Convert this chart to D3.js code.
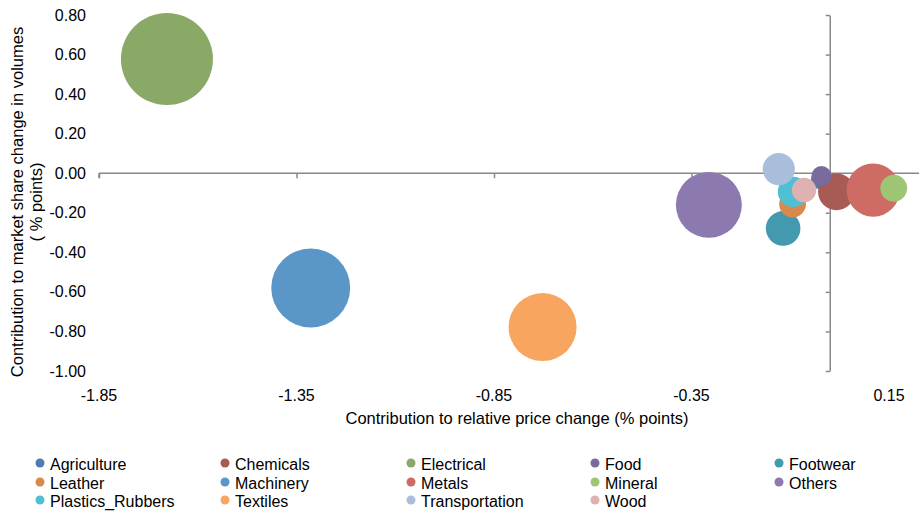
<!DOCTYPE html>
<html>
<head>
<meta charset="utf-8">
<script src="https://cdn.jsdelivr.net/npm/d3@7"></script>
<style>
  body { margin: 0; background: #fff; }
  text { font-family: "Liberation Sans", Arial, sans-serif; fill: #000; }
</style>
</head>
<body>
<script>
// sectors, in series order (later ones drawn on top)
const sectors = ['Agriculture', 'Chemicals', 'Electrical', 'Food', 'Footwear', 'Leather', 'Machinery',
  'Metals', 'Mineral', 'Others', 'Plastics_Rubbers', 'Textiles', 'Transportation', 'Wood'];
// contribution to relative price change (% points)
const priceChange = [-0.025, 0.017, -1.678, -0.021, -0.118, -0.094, -1.314,
  0.110, 0.162, -0.306, -0.093, -0.727, -0.129, -0.065];
// contribution to market share change in volumes (% points)
const volumeChange = [-0.035, -0.094, 0.577, -0.014, -0.279, -0.156, -0.580,
  -0.085, -0.076, -0.160, -0.094, -0.778, 0.021, -0.085];
// bubble size
const bubbleSize = [0.8, 3.4, 21.2, 1.0, 3.0, 1.8, 15.6, 7.1, 1.8, 10.9, 2.3, 11.6, 2.6, 1.5];
const colors = ['#4f7bb0', '#a85a54', '#8aa866', '#7a6a9e', '#4399ad', '#d88a4c', '#5b96c8',
  '#cd6b64', '#9dc573', '#8b79b0', '#4fbfd4', '#f8a55f', '#a9bedb', '#deb2b0'];

const xTicks = [-1.85, -1.35, -0.85, -0.35, 0.15];
const yTicks = [0.8, 0.6, 0.4, 0.2, 0, -0.2, -0.4, -0.6, -0.8, -1.0];

const width = 919, height = 511;
const svg = d3.select('body').append('svg')
  .attr('width', width)
  .attr('height', height);

const x = d3.scaleLinear().domain([-1.85, 0.225]).range([99, 918.6]);
const y = d3.scaleLinear().domain([-1.0, 0.8]).range([371, 15]);
const r = d3.scaleSqrt().domain([0, 21.2]).range([0, 46]);

const axisColor = '#888';
// hyphen instead of unicode minus, like the original
const fmt = function (d) { return d3.format('.2f')(d).replace('\u2212', '-'); };

// vertical axis crossing at x = 0
const yAxis = svg.append('g')
  .attr('transform', 'translate(' + x(0) + ',0)')
  .call(d3.axisLeft(y).tickValues(yTicks).tickSize(4).tickSizeOuter(0).tickFormat(''));
// horizontal axis crossing at y = 0
const xAxis = svg.append('g')
  .attr('transform', 'translate(0,' + y(0) + ')')
  .call(d3.axisBottom(x).tickValues(xTicks.slice(0, 4)).tickSize(5).tickSizeOuter(0).tickFormat(''));
xAxis.append('line').attr('x1', x(-1.85)).attr('x2', x(-1.85)).attr('y1', 0).attr('y2', 5);
svg.selectAll('.domain, .tick line, g > line').attr('stroke', axisColor).attr('stroke-width', 1.5);
xAxis.select('.domain').attr('d', 'M' + x(-1.85) + ',0H' + width);

// tick labels at the low end
svg.append('g').selectAll('text')
  .data(yTicks)
  .enter()
  .append('text')
  .attr('x', 86)
  .attr('y', function (d) { return y(d); })
  .attr('dy', '0.35em')
  .attr('text-anchor', 'end')
  .style('font-size', '16px')
  .text(fmt);

svg.append('g').selectAll('text')
  .data(xTicks)
  .enter()
  .append('text')
  .attr('x', function (d) { return x(d); })
  .attr('y', 401)
  .attr('text-anchor', 'middle')
  .style('font-size', '16px')
  .text(fmt);

// axis titles
svg.append('text')
  .attr('x', 517).attr('y', 424)
  .attr('text-anchor', 'middle')
  .style('font-size', '16.5px')
  .text('Contribution to relative price change (% points)');

const yTitle = svg.append('text')
  .attr('transform', 'translate(23,202) rotate(-90)')
  .attr('text-anchor', 'middle')
  .style('font-size', '16.5px');
yTitle.append('tspan').attr('x', 0).attr('y', 0).text('Contribution to market share change in volumes');
yTitle.append('tspan').attr('x', 0).attr('y', 19).text('( % points)');

// bubbles
svg.append('g').selectAll('circle')
  .data(sectors)
  .enter()
  .append('circle')
  .attr('cx', function (d, i) { return x(priceChange[i]); })
  .attr('cy', function (d, i) { return y(volumeChange[i]); })
  .attr('r', function (d, i) { return r(bubbleSize[i]); })
  .attr('fill', function (d, i) { return colors[i]; });

// legend, 5 columns
const colX = [40, 225, 411, 595, 779];
const rowY = [465, 484, 502];
const legend = svg.append('g').selectAll('g')
  .data(sectors)
  .enter()
  .append('g')
  .attr('transform', function (d, i) {
    return 'translate(' + colX[i % 5] + ',' + rowY[Math.floor(i / 5)] + ')';
  });
legend.append('circle')
  .attr('r', 4.5)
  .attr('cy', -2)
  .attr('fill', function (d, i) { return colors[i]; });
legend.append('text')
  .attr('x', 10)
  .attr('y', 0)
  .attr('dy', '0.3em')
  .style('font-size', '16px')
  .text(function (d) { return d; });
</script>
</body>
</html>
